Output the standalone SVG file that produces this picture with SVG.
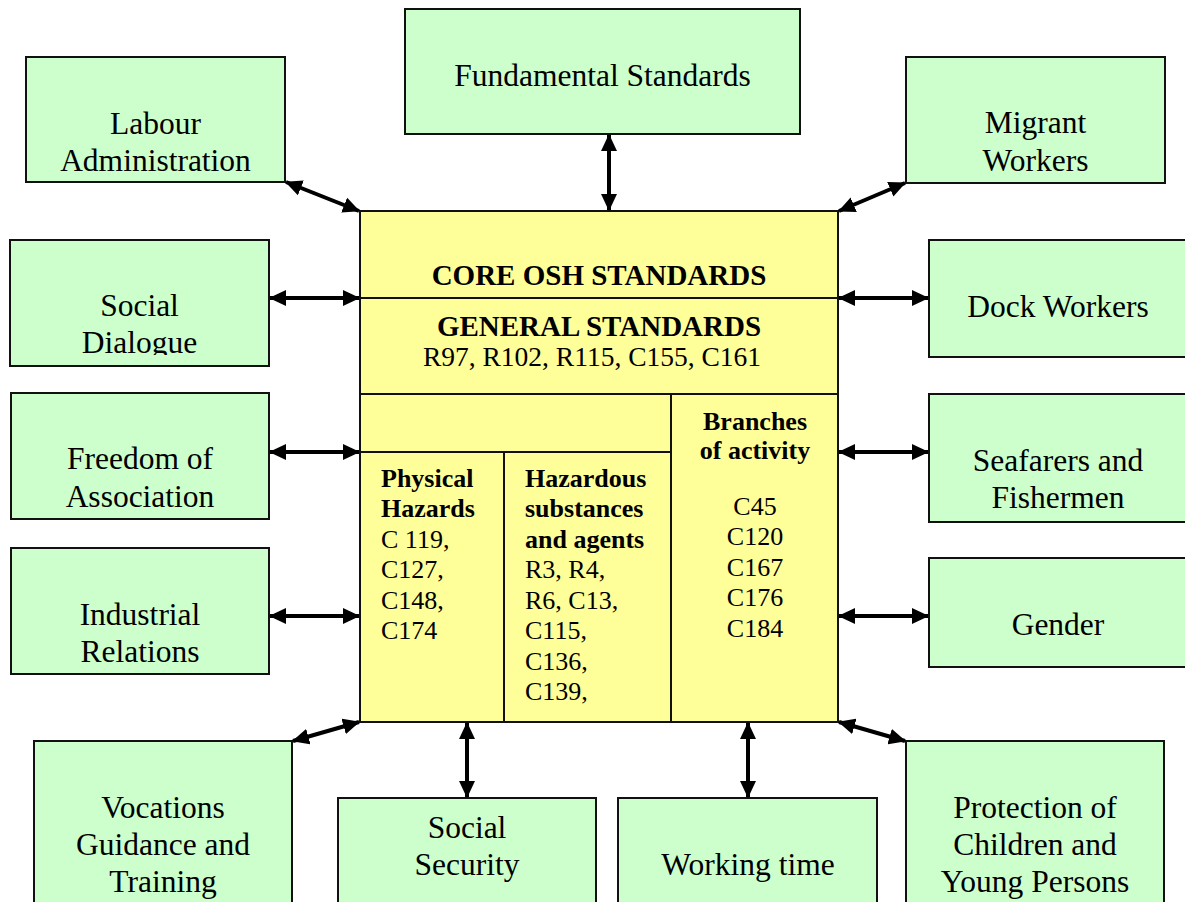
<svg xmlns="http://www.w3.org/2000/svg" width="1185" height="902" viewBox="0 0 1185 902">
<style>
.g{fill:#CCFFCC;stroke:#111;stroke-width:2}
.y{fill:#FFFF99;stroke:#111;stroke-width:2}
.ln{stroke:#111;stroke-width:2;fill:none}
.t{font-family:"Liberation Serif","Times New Roman",serif;font-size:31.5px;fill:#000;text-anchor:middle}
.h{font-family:"Liberation Serif","Times New Roman",serif;font-size:29px;font-weight:bold;fill:#000;text-anchor:middle}
.r{font-family:"Liberation Serif","Times New Roman",serif;font-size:27.5px;fill:#000;text-anchor:middle}
.c{font-family:"Liberation Serif","Times New Roman",serif;font-size:26px;fill:#000}
.cb{font-weight:bold}
.mid{text-anchor:middle}
.a{stroke:#000;stroke-width:4;fill:none;marker-start:url(#ah);marker-end:url(#ah)}
</style>
<defs>
<marker id="ah" viewBox="0 0 17 16" refX="16" refY="8" markerWidth="17" markerHeight="16" markerUnits="userSpaceOnUse" orient="auto-start-reverse">
<path d="M0,0 L17,8 L0,16 z" fill="#000"/>
</marker>
<clipPath id="sdclip"><rect x="0" y="230" width="300" height="125"/></clipPath>
</defs>
<rect width="1185" height="902" fill="#fff"/>

<g id="core">
<rect class="y" x="360" y="211" width="478" height="511"/>
<line class="ln" x1="360" y1="298" x2="838" y2="298"/>
<line class="ln" x1="360" y1="394" x2="838" y2="394"/>
<line class="ln" x1="360" y1="452" x2="671" y2="452"/>
<line class="ln" x1="671" y1="394" x2="671" y2="722"/>
<line class="ln" x1="504" y1="452" x2="504" y2="722"/>
<text class="h" x="599" y="285">CORE OSH STANDARDS</text>
<text class="h" x="599" y="336">GENERAL STANDARDS</text>
<text class="r" x="592" y="366">R97, R102, R115, C155, C161</text>
<text class="c cb" x="381" y="487">Physical</text>
<text class="c cb" x="381" y="517">Hazards</text>
<text class="c" x="381" y="548">C 119,</text>
<text class="c" x="381" y="578">C127,</text>
<text class="c" x="381" y="609">C148,</text>
<text class="c" x="381" y="639">C174</text>
<text class="c cb" x="525" y="487">Hazardous</text>
<text class="c cb" x="525" y="517">substances</text>
<text class="c cb" x="525" y="548">and agents</text>
<text class="c" x="525" y="578">R3, R4,</text>
<text class="c" x="525" y="609">R6, C13,</text>
<text class="c" x="525" y="639">C115,</text>
<text class="c" x="525" y="670">C136,</text>
<text class="c" x="525" y="700">C139,</text>
<text class="c cb mid" x="755" y="430">Branches</text>
<text class="c cb mid" x="755" y="459">of activity</text>
<text class="c mid" x="755" y="515">C45</text>
<text class="c mid" x="755" y="545">C120</text>
<text class="c mid" x="755" y="576">C167</text>
<text class="c mid" x="755" y="606">C176</text>
<text class="c mid" x="755" y="637">C184</text>
</g>

<g id="fundamental">
<rect class="g" x="405" y="9" width="395" height="125"/>
<text class="t" x="602.5" y="86">Fundamental Standards</text>
</g>
<g id="labour">
<rect class="g" x="26" y="57" width="259" height="125"/>
<text class="t" x="155.5" y="134">Labour</text>
<text class="t" x="155.5" y="171">Administration</text>
</g>
<g id="migrant">
<rect class="g" x="906" y="57" width="259" height="126"/>
<text class="t" x="1035.5" y="133">Migrant</text>
<text class="t" x="1035.5" y="171">Workers</text>
</g>
<g id="social-dialogue">
<rect class="g" x="10" y="240" width="259" height="126"/>
<g clip-path="url(#sdclip)">
<text class="t" x="139.5" y="316">Social</text>
<text class="t" x="139.5" y="353">Dialogue</text>
</g>
</g>
<g id="dock">
<rect class="g" x="929" y="240" width="270" height="117"/>
<text class="t" x="1058" y="317">Dock Workers</text>
</g>
<g id="freedom">
<rect class="g" x="11" y="393" width="258" height="126"/>
<text class="t" x="140" y="469">Freedom of</text>
<text class="t" x="140" y="507">Association</text>
</g>
<g id="seafarers">
<rect class="g" x="929" y="394" width="270" height="128"/>
<text class="t" x="1058" y="471">Seafarers and</text>
<text class="t" x="1058" y="508">Fishermen</text>
</g>
<g id="industrial">
<rect class="g" x="11" y="548" width="258" height="126"/>
<text class="t" x="140" y="625">Industrial</text>
<text class="t" x="140" y="662">Relations</text>
</g>
<g id="gender">
<rect class="g" x="929" y="558" width="270" height="109"/>
<text class="t" x="1058" y="635">Gender</text>
</g>
<g id="vocations">
<rect class="g" x="34" y="741" width="258" height="190"/>
<text class="t" x="163" y="818">Vocations</text>
<text class="t" x="163" y="855">Guidance and</text>
<text class="t" x="163" y="892">Training</text>
</g>
<g id="social-security">
<rect class="g" x="338" y="798" width="258" height="140"/>
<text class="t" x="467" y="838">Social</text>
<text class="t" x="467" y="875">Security</text>
</g>
<g id="working-time">
<rect class="g" x="618" y="798" width="259" height="140"/>
<text class="t" x="748" y="875">Working time</text>
</g>
<g id="protection">
<rect class="g" x="906" y="741" width="258" height="190"/>
<text class="t" x="1035" y="818">Protection of</text>
<text class="t" x="1035" y="855">Children and</text>
<text class="t" x="1035" y="892">Young Persons</text>
</g>

<g id="connectors">
<line class="a" x1="286" y1="182" x2="359" y2="211"/>
<line class="a" x1="905" y1="183" x2="839" y2="211"/>
<line class="a" x1="609" y1="135" x2="609" y2="210"/>
<line class="a" x1="270" y1="298" x2="359" y2="298"/>
<line class="a" x1="839" y1="298" x2="928" y2="298"/>
<line class="a" x1="270" y1="452" x2="359" y2="452"/>
<line class="a" x1="839" y1="452" x2="928" y2="452"/>
<line class="a" x1="270" y1="616" x2="359" y2="616"/>
<line class="a" x1="839" y1="616" x2="928" y2="616"/>
<line class="a" x1="293" y1="741" x2="359" y2="722"/>
<line class="a" x1="905" y1="741" x2="839" y2="722"/>
<line class="a" x1="467" y1="723" x2="467" y2="797"/>
<line class="a" x1="748" y1="723" x2="748" y2="797"/>
</g>
</svg>
